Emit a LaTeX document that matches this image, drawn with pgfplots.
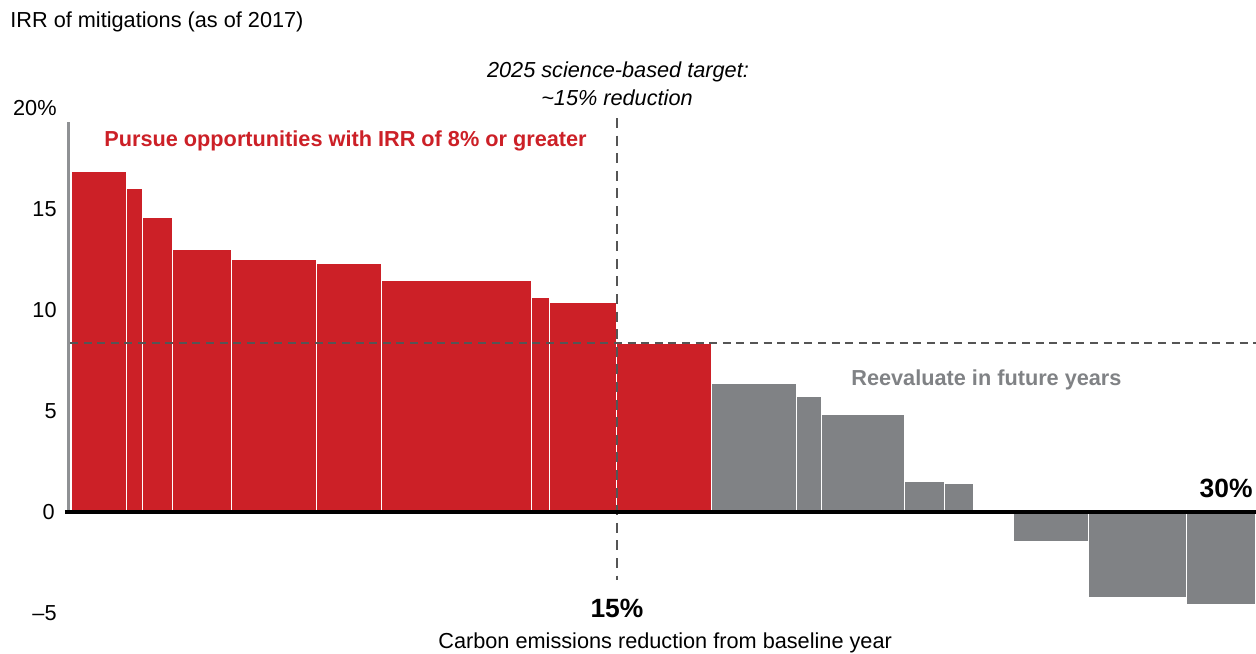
\documentclass[border=0pt]{standalone}
\usepackage{pgfplots}
\pgfplotsset{compat=1.18}
\usepackage{fontspec}
\setmainfont{Liberation Sans}
\definecolor{barred}{HTML}{CC2027}
\definecolor{bargray}{HTML}{808285}
\definecolor{axgray}{HTML}{8F9194}
\definecolor{dashc}{HTML}{555555}
\newcommand{\nf}{\fontsize{10.85bp}{13bp}\selectfont}
\newcommand{\bigbf}{\fontsize{13.2bp}{15bp}\selectfont\bfseries}
\begin{document}
\begin{tikzpicture}
\useasboundingbox (0,0) rectangle (628bp,327bp);
\begin{axis}[
  x=0.5bp, y=10.1bp,
  xmin=0, xmax=1256, ymin=-7.0297, ymax=25.3465,
  hide axis, clip=false,
]
% red bars (IRR >= 8%)
\addplot[ybar interval, fill=barred, draw=white, line width=0.5bp] coordinates {
 (72,16.87) (126.5,15.99) (143,14.57) (173,12.97) (232,12.48) (316.5,12.31)
 (381.5,11.47) (532,10.63) (549.5,10.38) (616.5,8.32) (711.5,0)
};
% gray bars
\addplot[ybar interval, fill=bargray, draw=white, line width=0.5bp] coordinates {
 (711.5,6.37) (796.5,5.73) (821.5,4.82) (904.5,1.52) (944.5,1.40) (974,0)
};
\addplot[ybar interval, fill=bargray, draw=white, line width=0.5bp] coordinates {
 (1014,-1.44) (1088.5,-4.22) (1187,-4.57) (1256,0)
};
% reference lines
\draw[dashc, line width=0.7bp, dash pattern=on 4bp off 2.8bp] (axis cs:70,8.37) -- (axis cs:1256,8.37);
\draw[dashc, line width=0.7bp, dash pattern=on 5bp off 3.8bp] (axis cs:617,19.5) -- (axis cs:617,-3.37);
% axes
\draw[axgray, line width=1.5bp] (axis cs:69,19.3) -- (axis cs:69,0);
\draw[black, line width=2.3bp] (axis cs:65,0) -- (axis cs:1256,0);
% tick labels
\node[anchor=east, inner sep=0pt, font=\nf] at (axis cs:57,20) {20\%};
\node[anchor=east, inner sep=0pt, font=\nf] at (axis cs:57,15) {15};
\node[anchor=east, inner sep=0pt, font=\nf] at (axis cs:57,10) {10};
\node[anchor=east, inner sep=0pt, font=\nf] at (axis cs:57,5) {5};
\node[anchor=east, inner sep=0pt, font=\nf] at (axis cs:55,0) {0};
\node[anchor=east, inner sep=0pt, font=\nf] at (axis cs:57,-5) {\textendash5};
% texts
\node[anchor=west, inner sep=0pt, font=\nf] at (axis cs:10,24.26) {IRR of mitigations (as of 2017)};
\node[inner sep=0pt, font=\nf\itshape] at (axis cs:618,21.78) {2025 science-based target:};
\node[inner sep=0pt, font=\nf\itshape] at (axis cs:617,20.50) {\textasciitilde15\% reduction};
\node[anchor=west, inner sep=0pt, font=\nf\bfseries, text=barred] at (axis cs:104,18.37) {Pursue opportunities with IRR of 8\% or greater};
\node[anchor=west, inner sep=0pt, font=\nf\bfseries, text=bargray] at (axis cs:851,6.53) {Reevaluate in future years};
\node[anchor=east, inner sep=0pt, font=\bigbf] at (axis cs:1253,1.19) {30\%};
\node[inner sep=0pt, font=\bigbf] at (axis cs:617,-4.75) {15\%};
\node[anchor=west, inner sep=0pt, font=\nf] at (axis cs:438,-6.49) {Carbon emissions reduction from baseline year};
\end{axis}
\end{tikzpicture}
\end{document}
